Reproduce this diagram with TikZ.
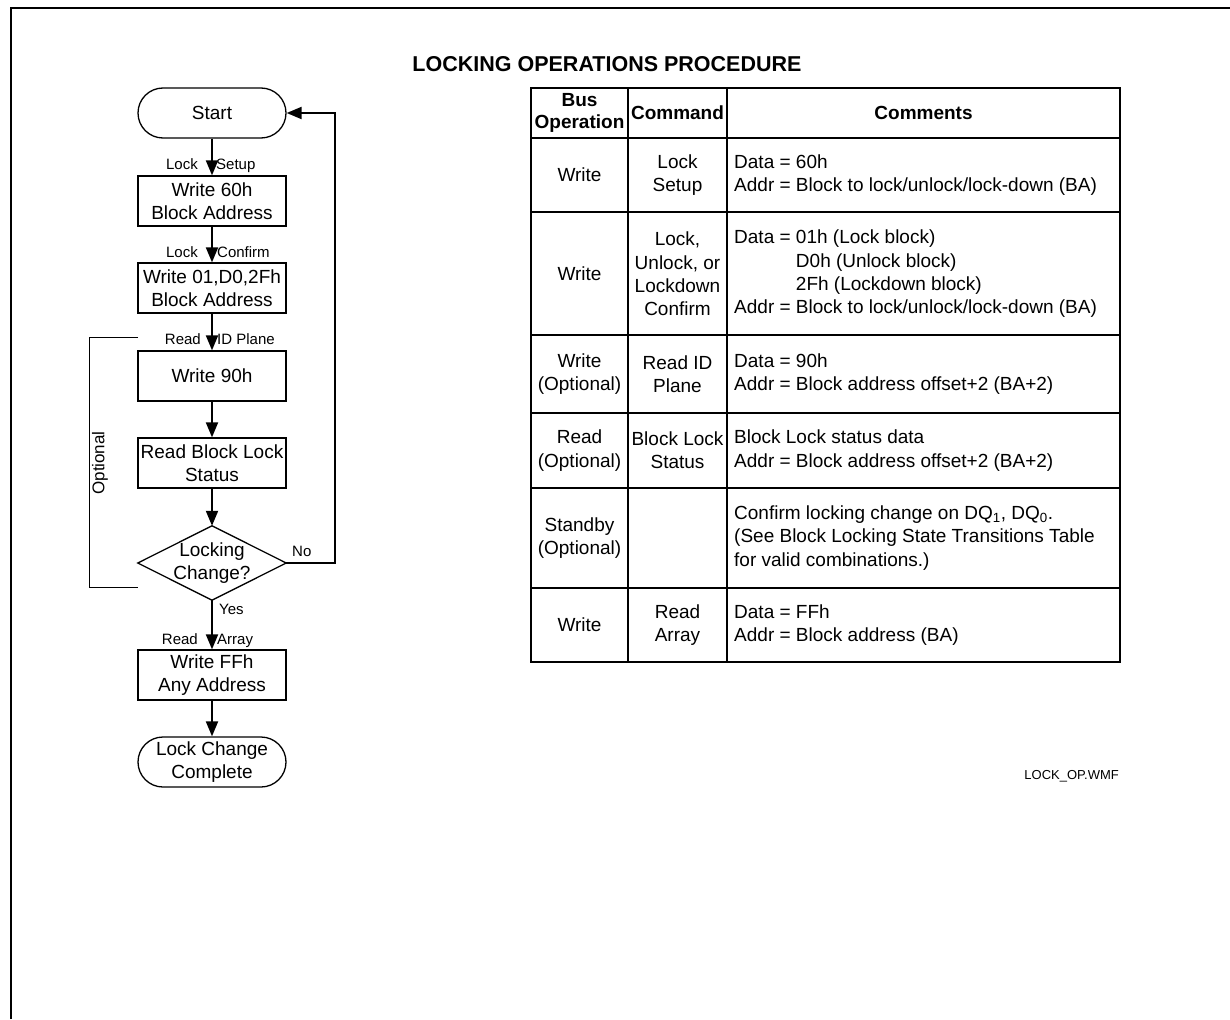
\documentclass[tikz,border=0pt]{standalone}
\usepackage{fontspec}
\setmainfont{Liberation Sans}
\usetikzlibrary{arrows.meta}
\newcommand\fmain{\fontsize{19pt}{23.3pt}\selectfont}
\newcommand\flab{\fontsize{15pt}{18pt}\selectfont}
\newcommand\fopt{\fontsize{17pt}{20pt}\selectfont}
\newcommand\ftitle{\fontsize{21.5pt}{26pt}\selectfont\bfseries}
\newcommand\fhead{\fontsize{19pt}{22pt}\selectfont\bfseries}
\newcommand\fsmall{\fontsize{13pt}{15pt}\selectfont}
\begin{document}
\begin{tikzpicture}[x=1pt,y=-1pt,
  procbox/.style={draw,line width=1.3pt,minimum width=148pt,minimum height=50pt,inner sep=0pt,align=center,font=\fmain},
  termbox/.style={procbox,rounded corners=25pt},
  decbox/.style={minimum width=148pt,minimum height=74pt,inner sep=0pt,align=center,font=\fmain},
  conn/.style={line width=2pt,-{Triangle[length=15pt,width=12pt]}},
  lbl/.style={inner sep=0pt,font=\flab,text height=11pt,text depth=3pt},
  cell/.style={inner sep=0pt,align=center,font=\fmain},
  headcell/.style={inner sep=0pt,align=center,font=\fhead},
  cmt/.style={inner sep=0pt,align=left,font=\fmain,anchor=west},
  gridline/.style={line width=1.8pt},
]
\useasboundingbox (0,0) rectangle (1230,1019);
% frame
\coordinate (fa) at (11,1019);
\coordinate (fb) at (11,8);
\coordinate (fc) at (1230,8);
\draw[line width=2.5pt] (fa) -- (fb) -- (fc);

% title
\node[inner sep=0pt,font=\ftitle] (title) at (607,64) {LOCKING OPERATIONS PROCEDURE};

% flowchart
\node[termbox] (start) at (212,113) {Start};
\node[procbox] (b1) at (212,201) {Write 60h\\Block Address};
\node[procbox] (b2) at (212,288) {Write 01,D0,2Fh\\Block Address};
\node[procbox] (b3) at (212,376) {Write 90h};
\node[procbox] (b4) at (212,463) {Read Block Lock\\Status};
\node[decbox] (dec) at (212,563) {Locking\\Change?};
\draw[line width=1.3pt] (dec.north) -- (dec.east) -- (dec.south) -- (dec.west) -- cycle;
\node[procbox] (b5) at (212,675) {Write FFh\\Any Address};
\node[termbox] (fin) at (212,762) {Lock Change\\Complete};

\draw[conn] (start.south) -- (b1.north);
\draw[conn] (b1.south) -- (b2.north);
\draw[conn] (b2.south) -- (b3.north);
\draw[conn] (b3.south) -- (b4.north);
\draw[conn] (b4.south) -- (dec.north);
\draw[conn] (dec.south) -- (b5.north);
\draw[conn] (b5.south) -- (fin.north);
\coordinate (nr) at (335,563);
\coordinate (nt) at (335,113);
\draw[conn] (dec.east) -- (nr) -- (nt) -- (start.east);

% labels
\node[lbl,anchor=east] (l1a) at (198,166) {Lock};
\node[lbl,anchor=west] (l1b) at (216,166) {Setup};
\node[lbl,anchor=east] (l2a) at (198,253) {Lock};
\node[lbl,anchor=west] (l2b) at (217,253) {Confirm};
\node[lbl,anchor=east] (l3a) at (201,340) {Read};
\node[lbl,anchor=west] (l3b) at (217,340) {ID Plane};
\node[lbl,anchor=west] (yes) at (219,610) {Yes};
\node[lbl,anchor=west] (no) at (292,552) {No};
\node[lbl,anchor=east] (l4a) at (198,640) {Read};
\node[lbl,anchor=west] (l4b) at (217,640) {Array};

% optional bracket
\coordinate (oa) at (138,337);
\coordinate (ob) at (89,337);
\coordinate (oc) at (89,587);
\coordinate (od) at (138,587);
\draw[line width=1pt] (oa) -- (ob) -- (oc) -- (od);
\node[inner sep=0pt,font=\fopt,rotate=90] (opt) at (100,463) {Optional};

% table grid
\foreach \yy in {88,138,212,335,413,488,588,662}
  \draw[gridline] (530.1,\yy) -- (1120.9,\yy);
\foreach \xx in {531,628,727,1120}
  \draw[gridline] (\xx,88) -- (\xx,662);

% header
\node[headcell] (h1) at (579.5,113) {Bus\\Operation};
\node[headcell] (h2) at (677.5,113) {Command};
\node[headcell] (h3) at (923.5,113) {Comments};

% row 1
\node[cell] (r1a) at (579.5,175) {Write};
\node[cell] (r1b) at (677.5,175) {Lock\\Setup};
\node[cmt] (r1c) at (734,175) {Data = 60h\\Addr = Block to lock/unlock/lock-down (BA)};

% row 2
\node[cell] (r2a) at (579.5,274) {Write};
\node[cell] (r2b) at (677.5,274) {Lock,\\Unlock, or\\Lockdown\\Confirm};
\node[cmt] (r2c) at (734,274) {Data = 01h (Lock block)\\\phantom{Data = }D0h (Unlock block)\\\phantom{Data = }2Fh (Lockdown block)\\Addr = Block to lock/unlock/lock-down (BA)};

% row 3
\node[cell] (r3a) at (579.5,374) {Write\\(Optional)};
\node[cell] (r3b) at (677.5,374) {Read ID\\Plane};
\node[cmt] (r3c) at (734,374) {Data = 90h\\Addr = Block address offset+2 (BA+2)};

% row 4
\node[cell] (r4a) at (579.5,450.5) {Read\\(Optional)};
\node[cell] (r4b) at (677.5,450.5) {Block Lock\\Status};
\node[cmt] (r4c) at (734,450.5) {Block Lock status data\\Addr = Block address offset+2 (BA+2)};

% row 5
\node[cell] (r5a) at (579.5,538) {Standby\\(Optional)};
\node[cmt] (r5c) at (734,538) {Confirm locking change on DQ\textsubscript{1}, DQ\textsubscript{0}.\\(See Block Locking State Transitions Table\\for valid combinations.)};

% row 6
\node[cell] (r6a) at (579.5,625) {Write};
\node[cell] (r6b) at (677.5,625) {Read\\Array};
\node[cmt] (r6c) at (734,625) {Data = FFh\\Addr = Block address (BA)};

% footer
\node[inner sep=0pt,font=\fsmall,anchor=east] (foot) at (1119,776) {LOCK\_OP.WMF};
\end{tikzpicture}
\end{document}
